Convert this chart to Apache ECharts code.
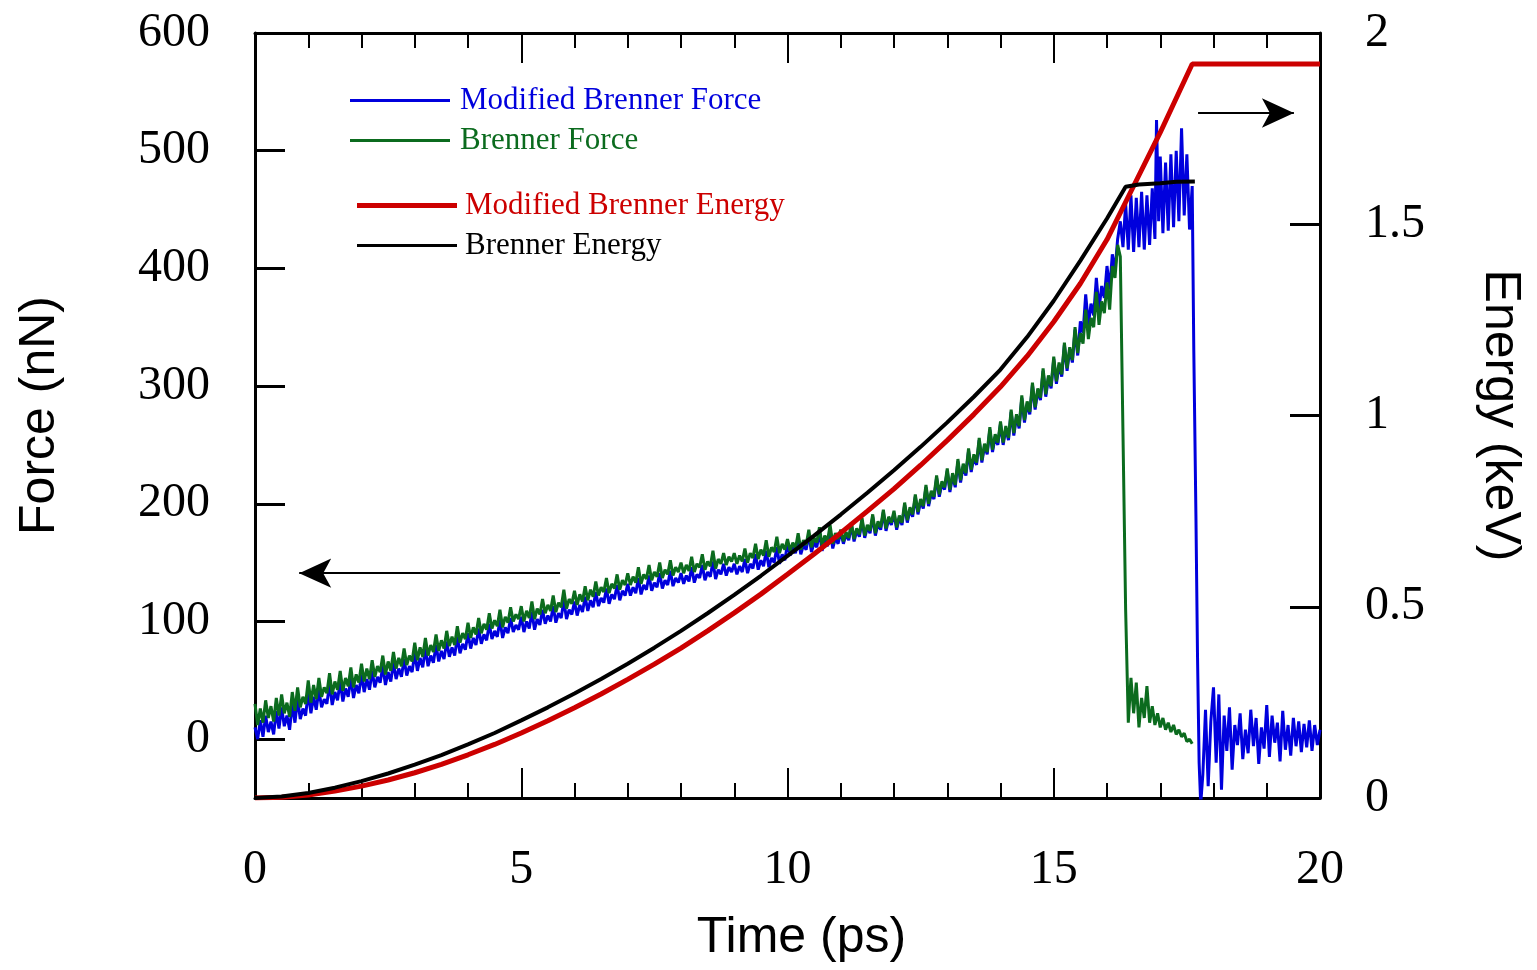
<!DOCTYPE html>
<html>
<head>
<meta charset="utf-8">
<script src="https://cdn.jsdelivr.net/npm/echarts@6/dist/echarts.min.js"></script>
<style>
html,body{margin:0;padding:0;background:#fff;}
#chart{width:1537px;height:970px;}
</style>
</head>
<body>
<div id="chart"></div>
<script>
// ---- Data ----
// Force sampled every 0.05 ps from t = 0 to 16.2 ps (one row = 1 ps)
const forceStep = 0.05;
const blueForce = [
  10, 0, 16, 2, 20, 6, 15, 4, 24, 9, 27, 11, 20, 8, 30, 14, 34, 17, 26, 20,
  40, 22, 36, 25, 42, 27, 34, 30, 47, 29, 40, 33, 49, 32, 43, 36, 52, 35, 46, 39,
  55, 40, 51, 42, 58, 44, 53, 48, 62, 46, 57, 49, 65, 51, 60, 53, 68, 54, 62, 57,
  73, 58, 69, 61, 77, 62, 71, 65, 80, 66, 75, 68, 83, 70, 78, 71, 87, 73, 81, 76,
  90, 77, 86, 80, 94, 81, 89, 84, 98, 85, 92, 87, 101, 86, 95, 90, 103, 91, 97, 93,
  104, 91, 100, 94, 108, 93, 102, 97, 110, 98, 105, 100, 113, 99, 107, 103, 118, 102, 110, 106,
  117, 105, 114, 108, 121, 109, 118, 112, 125, 113, 120, 116, 128, 115, 123, 119, 131, 118, 126, 122,
  132, 122, 129, 124, 137, 123, 131, 127, 139, 126, 133, 129, 141, 128, 135, 131, 143, 130, 137, 133,
  141, 132, 139, 134, 146, 133, 140, 137, 148, 135, 142, 138, 151, 136, 144, 140, 149, 139, 146, 142,
  149, 140, 147, 142, 153, 141, 149, 145, 157, 144, 152, 147, 160, 146, 154, 150, 163, 149, 157, 152,
  166, 156, 163, 158, 171, 157, 165, 161, 174, 159, 167, 163, 176, 160, 169, 164, 178, 162, 171, 166,
  176, 166, 174, 169, 182, 168, 177, 172, 186, 171, 180, 175, 189, 173, 183, 178, 193, 177, 187, 182,
  192, 178, 188, 182, 199, 184, 195, 189, 206, 191, 202, 196, 214, 198, 209, 204, 222, 206, 217, 212,
  228, 210, 224, 214, 236, 218, 232, 224, 245, 227, 240, 233, 254, 235, 249, 242, 263, 244, 257, 250,
  268, 250, 264, 254, 278, 258, 274, 264, 290, 269, 285, 276, 301, 280, 296, 288, 313, 291, 307, 298,
  323, 302, 318, 308, 335, 313, 331, 320, 348, 326, 355, 345, 378, 352, 370, 360, 392, 365, 385, 375,
  402, 382, 412, 398, 425
];
const greenForce = [
  30, 12, 26, 14, 33, 18, 28, 15, 35, 20, 38, 22, 31, 19, 40, 24, 44, 27, 36, 30,
  50, 31, 46, 34, 52, 36, 44, 39, 56, 38, 49, 42, 58, 41, 52, 45, 61, 44, 55, 48,
  64, 49, 60, 51, 67, 53, 62, 57, 71, 55, 66, 58, 74, 60, 69, 62, 77, 63, 71, 66,
  82, 67, 78, 70, 86, 71, 80, 74, 89, 75, 84, 77, 92, 79, 87, 80, 96, 82, 90, 85,
  99, 86, 95, 89, 103, 90, 98, 93, 107, 94, 101, 96, 110, 95, 104, 99, 112, 100, 106, 102,
  113, 100, 109, 103, 117, 102, 111, 106, 119, 107, 114, 109, 122, 108, 116, 112, 127, 111, 119, 115,
  126, 114, 123, 117, 130, 118, 127, 121, 134, 122, 129, 125, 137, 124, 132, 128, 140, 127, 135, 131,
  141, 131, 138, 133, 146, 132, 140, 136, 148, 135, 142, 138, 150, 137, 144, 140, 152, 139, 146, 142,
  150, 141, 148, 143, 155, 142, 149, 146, 157, 144, 151, 147, 160, 145, 153, 149, 158, 148, 155, 151,
  158, 149, 156, 151, 162, 150, 158, 154, 166, 153, 161, 156, 169, 155, 163, 159, 172, 158, 166, 161,
  170, 160, 167, 162, 175, 161, 169, 165, 178, 163, 171, 167, 180, 164, 173, 168, 182, 166, 175, 170,
  178, 168, 176, 171, 184, 170, 179, 174, 188, 173, 182, 177, 191, 175, 185, 180, 195, 179, 189, 184,
  194, 180, 190, 184, 201, 186, 197, 191, 208, 193, 204, 198, 216, 200, 211, 206, 224, 208, 219, 214,
  230, 212, 226, 216, 238, 220, 234, 226, 247, 229, 242, 235, 256, 237, 251, 244, 265, 246, 259, 252,
  270, 252, 266, 256, 280, 260, 276, 266, 292, 271, 287, 278, 303, 282, 298, 290, 315, 293, 309, 300,
  325, 304, 320, 310, 337, 315, 333, 322, 350, 328, 345, 336, 365, 340, 358, 350, 380, 352, 372, 362,
  388, 365, 402, 392, 420
];
// Late parts (irregular times)
const blueLateT = [16.25, 16.3, 16.35, 16.4, 16.45, 16.5, 16.55, 16.6, 16.65, 16.7,
  16.75, 16.8, 16.85, 16.9, 16.93, 16.97, 17.0, 17.05, 17.1, 17.15,
  17.2, 17.25, 17.3, 17.35, 17.4, 17.45, 17.5, 17.55, 17.6, 17.63,
  17.67, 17.7, 17.73, 17.76, 17.8, 17.85, 17.9, 17.95, 18.0, 18.05,
  18.1, 18.15, 18.2, 18.25, 18.3, 18.35, 18.4, 18.45, 18.5, 18.55,
  18.6, 18.65, 18.7, 18.75, 18.8, 18.85, 18.9, 18.95, 19.0, 19.05,
  19.1, 19.15, 19.2, 19.25, 19.3, 19.35, 19.4, 19.45, 19.5, 19.55,
  19.6, 19.65, 19.7, 19.75, 19.8, 19.85, 19.9, 19.95, 20.0];
const blueLateF = [440, 418, 455, 416, 462, 414, 460, 418, 465, 416,
  462, 420, 468, 425, 526, 440, 495, 430, 490, 432,
  497, 435, 500, 440, 519, 445, 497, 433, 470, 330,
  190, 70, -20, -55, -30, 25, -40, 15, 44, -20,
  38, -43, 20, -10, 27, -26, 12, -5, 22, -17,
  8, -12, 25, -6, 18, -21, 10, -8, 29, -15,
  20, -3, 14, -19, 24, -9, 12, -14, 18, -6,
  15, -11, 13, -7, 16, -10, 12, -5, 8];
const greenTailT = [16.25, 16.3, 16.35, 16.4, 16.45, 16.5, 16.55, 16.6, 16.65, 16.7,
  16.75, 16.8, 16.85, 16.9, 16.95, 17.0, 17.05, 17.1, 17.15, 17.2,
  17.25, 17.3, 17.35, 17.4, 17.45, 17.5, 17.55, 17.6];
const greenTailF = [410, 260, 110, 14, 52, 22, 48, 10, 35, 18,
  45, 14, 28, 12, 22, 10, 18, 8, 14, 6,
  12, 4, 8, 2, 5, -2, 0, -4];

// Energy (keV)
const redEnergyT = [0, 0.5, 1, 1.5, 2, 2.5, 3, 3.5, 4, 4.5, 5, 5.5, 6, 6.5, 7, 7.5, 8, 8.5, 9, 9.5,
  10, 10.5, 11, 11.5, 12, 12.5, 13, 13.5, 14, 14.5, 15, 15.5, 16, 16.5, 17, 17.6, 20];
const redEnergyE = [0, 0.002, 0.008, 0.018, 0.031, 0.047, 0.066, 0.088, 0.113, 0.14, 0.17, 0.202, 0.236, 0.272, 0.31, 0.35, 0.392, 0.437, 0.484, 0.533,
  0.585, 0.638, 0.693, 0.75, 0.808, 0.87, 0.935, 1.003, 1.075, 1.155, 1.245, 1.345, 1.46, 1.6, 1.74, 1.919, 1.919];
const blackEnergyT = [0, 0.5, 1, 1.5, 2, 2.5, 3, 3.5, 4, 4.5, 5, 5.5, 6, 6.5, 7, 7.5, 8, 8.5, 9, 9.5,
  10, 10.5, 11, 11.5, 12, 12.5, 13, 13.5, 14, 14.5, 15, 15.5, 16, 16.35, 16.6, 17, 17.3, 17.65];
const blackEnergyE = [0, 0.004, 0.013, 0.027, 0.044, 0.064, 0.087, 0.112, 0.14, 0.17, 0.203, 0.237, 0.273, 0.311, 0.351, 0.393, 0.437, 0.483, 0.531, 0.581,
  0.633, 0.686, 0.741, 0.798, 0.857, 0.918, 0.982, 1.049, 1.12, 1.205, 1.3, 1.405, 1.515, 1.598, 1.604, 1.607, 1.611, 1.612];

// Axis ticks / labels
const forceTicks = [0, 100, 200, 300, 400, 500, 600];

// Arrow annotations (data units): [tail, tip]
const leftArrow = { from: [5.73, 141], to: [0.83, 141] };
const rightArrow = { from: [17.71, 532], to: [19.51, 532] };

// ---- Build ----
function gridPairs(vals, step) { return vals.map((v, i) => [+(i * step).toFixed(2), v]); }
function zipPairs(ts, vs) { return ts.map((t, i) => [t, vs[i]]); }

const blueData = gridPairs(blueForce, forceStep).concat(zipPairs(blueLateT, blueLateF));
const greenData = gridPairs(greenForce, forceStep).concat(zipPairs(greenTailT, greenTailF));
const redData = zipPairs(redEnergyT, redEnergyE);
const blackData = zipPairs(blackEnergyT, blackEnergyE);

const serif = "'Liberation Serif', 'DejaVu Serif', serif";
const sans = "'Liberation Sans', Arial, sans-serif";
const axisLine = { show: true, onZero: false, lineStyle: { color: '#000', width: 3 } };

const chart = echarts.init(document.getElementById('chart'));
chart.setOption({
  animation: false,
  backgroundColor: '#fff',
  grid: { left: 255, right: 217, top: 33, bottom: 172, containLabel: false, outerBoundsMode: 'none' },
  legend: [
    { data: ['Modified Brenner Force'], left: 350, top: 85, padding: 0, icon: 'rect', itemWidth: 100, itemHeight: 3,
      textStyle: { color: '#0000dd', fontFamily: serif, fontSize: 31, lineHeight: 30, padding: [0, 0, 0, 5] }, selectedMode: false },
    { data: ['Brenner Force'], left: 350, top: 125, padding: 0, icon: 'rect', itemWidth: 100, itemHeight: 3,
      textStyle: { color: '#0b6b1e', fontFamily: serif, fontSize: 31, lineHeight: 30, padding: [0, 0, 0, 5] }, selectedMode: false },
    { data: ['Modified Brenner Energy'], left: 357, top: 190, padding: 0, icon: 'rect', itemWidth: 100, itemHeight: 5,
      textStyle: { color: '#cc0000', fontFamily: serif, fontSize: 31, lineHeight: 30, padding: [0, 0, 0, 3] }, selectedMode: false },
    { data: ['Brenner Energy'], left: 357, top: 230, padding: 0, icon: 'rect', itemWidth: 100, itemHeight: 3,
      textStyle: { color: '#000', fontFamily: serif, fontSize: 31, lineHeight: 30, padding: [0, 0, 0, 3] }, selectedMode: false }
  ],
  xAxis: [
    { type: 'value', position: 'bottom', min: 0, max: 20, interval: 5,
      axisLine: axisLine,
      axisTick: { show: true, inside: true, length: 30, lineStyle: { color: '#000', width: 2 } },
      minorTick: { show: true, splitNumber: 5, length: 15, lineStyle: { color: '#000', width: 2 } },
      axisLabel: { show: true, fontFamily: serif, fontSize: 48, color: '#000', margin: 48 },
      splitLine: { show: false }, minorSplitLine: { show: false },
      name: 'Time (ps)', nameLocation: 'middle', nameGap: 115,
      nameTextStyle: { fontFamily: sans, fontSize: 50, color: '#000', padding: [0, 0, 0, 28] } },
    { type: 'value', position: 'top', min: 0, max: 20, interval: 5,
      axisLine: axisLine,
      axisTick: { show: true, inside: true, length: 30, lineStyle: { color: '#000', width: 2 } },
      minorTick: { show: true, splitNumber: 5, length: 15, lineStyle: { color: '#000', width: 2 } },
      axisLabel: { show: false }, splitLine: { show: false }, minorSplitLine: { show: false } }
  ],
  yAxis: [
    { type: 'value', position: 'left', min: -50, max: 600,
      axisLine: axisLine,
      axisTick: { show: true, inside: true, length: 30, lineStyle: { color: '#000', width: 3 }, customValues: forceTicks },
      axisLabel: { show: true, fontFamily: serif, fontSize: 48, color: '#000', margin: 45, customValues: forceTicks },
      splitLine: { show: false },
      name: 'Force (nN)', nameLocation: 'middle', nameGap: 190, nameRotate: 90,
      nameTextStyle: { fontFamily: sans, fontSize: 50, color: '#000' } },
    { type: 'value', position: 'right', min: 0, max: 2, interval: 0.5,
      axisLine: axisLine,
      axisTick: { show: true, inside: true, length: 30, lineStyle: { color: '#000', width: 3 } },
      axisLabel: { show: true, fontFamily: serif, fontSize: 48, color: '#000', margin: 45 },
      splitLine: { show: false },
      name: 'Energy (keV)', nameLocation: 'middle', nameGap: 155, nameRotate: -90,
      nameTextStyle: { fontFamily: sans, fontSize: 50, color: '#000' } }
  ],
  series: [
    { name: 'Modified Brenner Force', type: 'line', xAxisIndex: 0, yAxisIndex: 0, data: blueData,
      showSymbol: false, symbol: 'none', lineStyle: { color: '#0000dd', width: 3 }, itemStyle: { color: '#0000dd' }, z: 2 },
    { name: 'Brenner Force', type: 'line', xAxisIndex: 0, yAxisIndex: 0, data: greenData,
      showSymbol: false, symbol: 'none', lineStyle: { color: '#0b6b1e', width: 3 }, itemStyle: { color: '#0b6b1e' }, z: 3,
      markLine: {
        silent: true, symbol: ['none', 'arrow'], symbolSize: [22, 32],
        label: { show: false },
        lineStyle: { color: '#000', width: 2, type: 'solid' },
        itemStyle: { color: '#000' },
        data: [
          [{ coord: leftArrow.from }, { coord: leftArrow.to }],
          [{ coord: rightArrow.from }, { coord: rightArrow.to }]
        ]
      } },
    { name: 'Modified Brenner Energy', type: 'line', xAxisIndex: 0, yAxisIndex: 1, data: redData,
      showSymbol: false, symbol: 'none',
      lineStyle: { color: '#cc0000', width: 5 }, itemStyle: { color: '#cc0000' }, z: 4 },
    { name: 'Brenner Energy', type: 'line', xAxisIndex: 0, yAxisIndex: 1, data: blackData,
      showSymbol: false, symbol: 'none',
      lineStyle: { color: '#000', width: 4 }, itemStyle: { color: '#000' }, z: 5 }
  ]
});
</script>
</body>
</html>
